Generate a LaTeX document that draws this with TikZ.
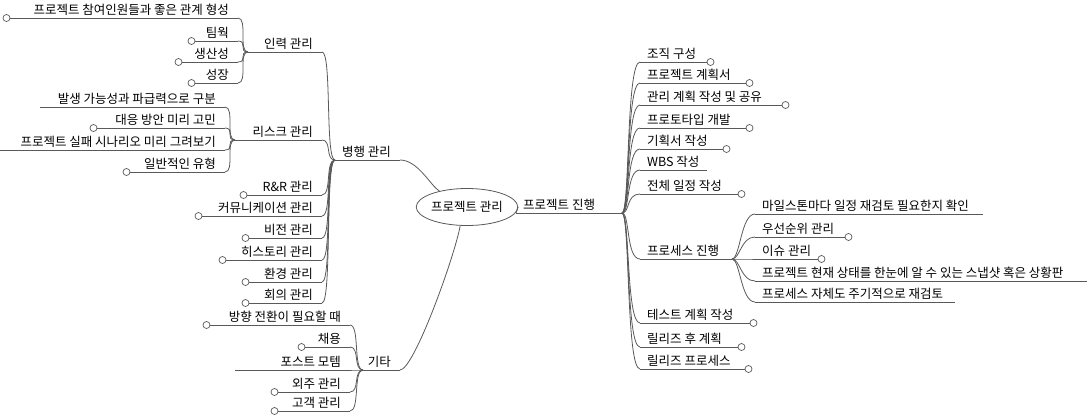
\documentclass[tikz,border=0pt]{standalone}
\usepackage{fontspec}
\setmainfont{Noto Sans CJK KR}
\usetikzlibrary{shapes.geometric}
\tikzset{mm/.style={draw=black!65,line width=0.8pt},
 lbl/.style={inner sep=0pt,font=\fontsize{12.5}{13}\selectfont},
 knob/.style={draw=black!65,line width=0.7pt,fill=white},
 rc/.style={out=0,in=180,out distance=8pt,in distance=14pt},
 lc/.style={out=0,in=180,out distance=10pt,in distance=10pt}}
\newcommand\mmL[6]{%
 \coordinate (#1o) at (#2,#4); \coordinate (#1i) at (#3,#4);
 \draw[mm] (#1o)--(#1i);
 \node[lbl,anchor=south east] (#1) at (#3-9,#4-2) {#5};
 \ifnum#6=1 \draw[knob] (#2-3.5,#4) circle[radius=3.5pt];\fi}
\newcommand\mmR[6]{%
 \coordinate (#1i) at (#2,#4); \coordinate (#1o) at (#3,#4);
 \draw[mm] (#1i)--(#1o);
 \node[lbl,anchor=south west] (#1) at (#2+7,#4-2) {#5};
 \ifnum#6=1 \draw[knob] (#3+3.5,#4) circle[radius=3.5pt];\fi}
\begin{document}
\begin{tikzpicture}[x=1pt,y=-1pt]
\useasboundingbox (0,0) rectangle (1088,415);
\node[draw=black!65,line width=0.8pt,ellipse,minimum width=97pt,minimum height=37pt,inner sep=0pt,font=\fontsize{12.5}{13}\selectfont] (root) at (467,207) {프로젝트 관리};
% right
\mmR{pj}{516}{622}{213}{프로젝트 진행}{0}
\draw[mm] (root.east) -- (pji);
\mmR{r1}{640}{707}{62}{조직 구성}{1}
\mmR{r2}{640}{746}{83}{프로젝트 계획서}{1}
\mmR{r3}{640}{782}{105}{관리 계획 작성 및 공유}{1}
\mmR{r4}{640}{746}{128}{프로토타입 개발}{1}
\mmR{r5}{640}{723}{149}{기획서 작성}{1}
\mmR{r6}{640}{707}{170}{WBS 작성}{0}
\mmR{r7}{640}{738}{194}{전체 일정 작성}{1}
\mmR{r8}{640}{732}{259}{프로세스 진행}{0}
\mmR{r9}{640}{750}{323}{테스트 계획 작성}{1}
\mmR{r10}{640}{738}{347}{릴리즈 후 계획}{1}
\mmR{r11}{640}{745}{369}{릴리즈 프로세스}{1}
\foreach \c in {r1,r2,r3,r4,r5,r6,r7,r8,r9,r10,r11}
 \draw[mm] (pjo) to[rc] (\c i);
\mmR{p1}{755}{983}{214}{마일스톤마다 일정 재검토 필요한지 확인}{0}
\mmR{p2}{755}{845}{237}{우선순위 관리}{1}
\mmR{p3}{755}{818}{259}{이슈 관리}{1}
\mmR{p4}{755}{1087}{281}{프로젝트 현재 상태를 한눈에 알 수 있는 스냅샷 혹은 상황판}{0}
\mmR{p5}{755}{955}{302}{프로세스 자체도 주기적으로 재검토}{0}
\foreach \c in {p1,p2,p3,p4,p5}
 \draw[mm] (r8o) to[rc] (\c i);
% left
\mmL{bh}{335}{400}{160}{병행 관리}{0}
\draw[mm] (bhi) to[out=0,in=150,out distance=18pt,in distance=10pt] (root.150);
\mmL{a}{248}{322}{52}{인력 관리}{0}
\mmL{b}{235}{322}{140}{리스크 관리}{0}
\mmL{c}{247}{322}{195}{R\&R 관리}{1}
\mmL{d}{202}{322}{216}{커뮤니케이션 관리}{1}
\mmL{e}{249}{322}{238}{비전 관리}{1}
\mmL{f}{226}{322}{260}{히스토리 관리}{1}
\mmL{g}{249}{322}{282}{환경 관리}{1}
\mmL{h}{249}{322}{303}{회의 관리}{1}
\foreach \c in {a,b,c,d,e,f,g,h}
 \draw[mm] (\c i) to[lc] (bho);
\mmL{a1}{10}{238}{18}{프로젝트 참여인원들과 좋은 관계 형성}{1}
\mmL{a2}{195}{238}{41}{팀웍}{1}
\mmL{a3}{182}{238}{62}{생산성}{1}
\mmL{a4}{195}{238}{83}{성장}{1}
\foreach \c in {a1,a2,a3,a4}
 \draw[mm] (\c i) to[lc] (ao);
\mmL{b1}{40}{225}{107}{발생 가능성과 파급력으로 구분}{0}
\mmL{b2}{97}{225}{128}{대응 방안 미리 고민}{1}
\mmL{b3}{0}{225}{150}{프로젝트 실패 시나리오 미리 그려보기}{0}
\mmL{b4}{130}{225}{172}{일반적인 유형}{1}
\foreach \c in {b1,b2,b3,b4}
 \draw[mm] (\c i) to[lc] (bo);
\mmL{gt}{363}{400}{370}{기타}{0}
\draw[mm] (gti) to[out=0,in=260,out distance=14pt,in distance=30pt] (root.250);
\mmL{g1}{210}{350}{325}{방향 전환이 필요할 때}{1}
\mmL{g2}{305}{350}{347}{채용}{1}
\mmL{g3}{235}{350}{370}{포스트 모템}{0}
\mmL{g4}{278}{350}{392}{외주 관리}{1}
\mmL{g5}{278}{350}{411}{고객 관리}{1}
\foreach \c in {g1,g2,g3,g4,g5}
 \draw[mm] (\c i) to[lc] (gto);
\end{tikzpicture}
\end{document}
